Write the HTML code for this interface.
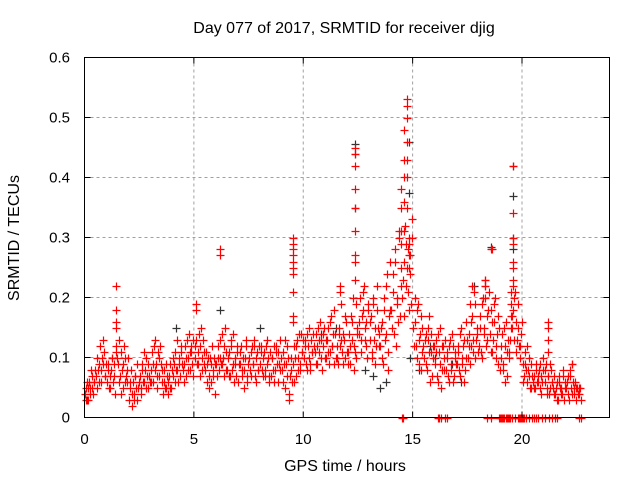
<!DOCTYPE html>
<html><head><meta charset="utf-8"><style>
html,body{margin:0;padding:0;background:#fff;}
svg{display:block;font-family:"Liberation Sans",Arial,sans-serif;}
</style></head><body>
<svg id="chart" width="640" height="480" viewBox="0 0 640 480">
<text x="344" y="33" font-size="16" text-anchor="middle" fill="#000">Day 077 of 2017, SRMTID for receiver djig</text>
<g id="grid"></g>
<g id="black"></g>
<g id="red"></g>
<g id="axes"></g>
<text x="345" y="471" font-size="16" text-anchor="middle">GPS time / hours</text>
<text transform="translate(19,238) rotate(-90)" font-size="16" text-anchor="middle">SRMTID / TECUs</text>
</svg>
<script>
const xTicks=[0,5,10,15,20];
const yTicks=[0,0.1,0.2,0.3,0.4,0.5,0.6];
const yTickLabels=["0","0.1","0.2","0.3","0.4","0.5","0.6"];
const redT=[
0.03,0.09,0.15,0.21,0.27,0.33,0.39,0.45,
0.53,0.59,0.65,0.71,0.77,0.83,0.89,0.95,
1.03,1.09,1.15,1.21,1.27,1.33,1.39,1.45,
1.53,1.59,1.65,1.71,1.77,1.83,1.89,1.95,
2.03,2.09,2.15,2.21,2.27,2.33,2.39,2.45,
2.53,2.59,2.65,2.71,2.77,2.83,2.89,2.95,
3.03,3.09,3.15,3.21,3.27,3.33,3.39,3.45,
3.53,3.59,3.65,3.71,3.77,3.83,3.89,3.95,
4.03,4.09,4.15,4.21,4.27,4.33,4.39,4.45,
4.53,4.59,4.65,4.71,4.77,4.83,4.89,4.95,
5.03,5.09,5.15,5.21,5.27,5.33,5.39,5.45,
5.53,5.59,5.65,5.71,5.77,5.83,5.89,5.95,
6.03,6.09,6.15,6.21,6.27,6.33,6.39,6.45,
6.53,6.59,6.65,6.71,6.77,6.83,6.89,6.95,
7.03,7.09,7.15,7.21,7.27,7.33,7.39,7.45,
7.53,7.59,7.65,7.71,7.77,7.83,7.89,7.95,
8.03,8.09,8.15,8.21,8.27,8.33,8.39,8.45,
8.53,8.59,8.65,8.71,8.77,8.83,8.89,8.95,
9.03,9.09,9.15,9.21,9.27,9.33,9.39,9.45,
9.53,9.59,9.65,9.71,9.77,9.83,9.89,9.95,
10.03,10.09,10.15,10.21,10.27,10.33,10.39,10.45,
10.53,10.59,10.65,10.71,10.77,10.83,10.89,10.95,
11.03,11.09,11.15,11.21,11.27,11.33,11.39,11.45,
11.53,11.59,11.65,11.71,11.77,11.83,11.89,11.95,
12.03,12.09,12.15,12.21,12.27,12.33,12.39,12.45,
12.53,12.59,12.65,12.71,12.77,12.83,12.89,12.95,
13.03,13.09,13.15,13.21,13.27,13.33,13.39,13.45,
13.53,13.59,13.65,13.71,13.77,13.83,13.89,13.95,
14.03,14.09,14.15,14.21,14.27,14.33,14.39,14.45,
14.53,14.59,14.65,14.71,14.77,14.83,14.89,14.95,
15.03,15.09,15.15,15.21,15.27,15.33,15.39,15.45,
15.53,15.59,15.65,15.71,15.77,15.83,15.89,15.95,
16.03,16.09,16.15,16.21,16.27,16.33,16.39,16.45,
16.53,16.59,16.65,16.71,16.77,16.83,16.89,16.95,
17.03,17.09,17.15,17.21,17.27,17.33,17.39,17.45,
17.53,17.59,17.65,17.71,17.77,17.83,17.89,17.95,
18.03,18.09,18.15,18.21,18.27,18.33,18.39,18.45,
18.53,18.59,18.65,18.71,18.77,18.83,18.89,18.95,
19.03,19.09,19.15,19.21,19.27,19.33,19.39,19.45,
19.53,19.59,19.65,19.71,19.77,19.83,19.89,19.95,
20.03,20.09,20.15,20.21,20.27,20.33,20.39,20.45,
20.53,20.59,20.65,20.71,20.77,20.83,20.89,20.95,
21.03,21.09,21.15,21.21,21.27,21.33,21.39,21.45,
21.53,21.59,21.65,21.71,21.77,21.83,21.89,21.95,
22.03,22.09,22.15,22.21,22.27,22.33,22.39,22.45,
22.53,22.59,22.65];
const redA=[
.04,.05,.03,.06,.05,.07,.04,.06,
.07,.10,.06,.12,.08,.09,.11,.07,
.06,.09,.05,.08,.10,.07,.04,.12,
.09,.06,.11,.08,.05,.10,.07,.06,
.03,.05,.02,.06,.04,.07,.03,.05,
.07,.05,.09,.06,.08,.10,.05,.07,
.08,.11,.06,.13,.09,.07,.10,.12,
.06,.04,.08,.05,.07,.06,.09,.05,
.07,.09,.11,.08,.06,.10,.12,.09,
.09,.12,.07,.10,.14,.08,.11,.13,
.10,.13,.09,.09,.12,.15,.08,.11,
.08,.06,.10,.05,.09,.12,.07,.04,
.09,.12,.08,.10,.14,.10,.07,.11,
.08,.11,.07,.13,.09,.06,.10,.12,
.06,.09,.12,.08,.05,.10,.13,.07,
.10,.07,.12,.09,.13,.06,.11,.08,
.09,.12,.07,.11,.08,.13,.10,.06,
.07,.10,.12,.08,.11,.06,.09,.13,
.08,.11,.05,.09,.12,.04,.07,.10,
.09,.12,.07,.13,.10,.08,.14,.11,
.10,.13,.08,.12,.15,.09,.11,.14,
.11,.14,.09,.13,.16,.10,.12,.15,
.10,.13,.15,.11,.17,.12,.09,.14,
.12,.09,.15,.13,.11,.14,.10,.16,
.11,.14,.09,.16,.20,.12,.10,.15,
.16,.20,.13,.18,.22,.15,.12,.19,
.13,.17,.10,.20,.15,.12,.18,.14,
.12,.16,.09,.20,.14,.24,.11,.18,
.18,.24,.14,.28,.20,.16,.31,.22,
.20,.26,.32,.22,.28,.18,.24,.30,
.15,.20,.12,.18,.09,.14,.17,.11,
.10,.14,.08,.13,.17,.11,.07,.12,
.09,.13,.06,.11,.15,.08,.12,.10,
.08,.11,.06,.13,.09,.12,.07,.10,
.09,.12,.07,.15,.10,.13,.08,.16,
.10,.14,.12,.17,.11,.19,.13,.15,
.12,.17,.10,.20,.15,.23,.13,.18,
.14,.18,.11,.16,.20,.12,.09,.15,
.10,.14,.08,.12,.16,.07,.11,.13,
.15,.18,.20,.16,.13,.19,.12,.14,
.09,.07,.11,.06,.08,.10,.05,.07,
.07,.05,.09,.06,.08,.05,.07,.10,
.06,.09,.04,.07,.05,.08,.06,.04,
.04,.06,.03,.07,.05,.04,.08,.06,
.05,.07,.03,.08,.04,.06,.05,.03,
.05,.04,.05];
const redB=[
.03,.06,.05,.04,.08,.05,.06,.08,
.05,.08,.09,.06,.10,.13,.07,.09,
.08,.05,.07,.10,.06,.09,.11,.10,
.13,.07,.04,.09,.12,.06,.08,.10,
.06,.08,.04,.03,.07,.05,.09,.06,
.04,.08,.06,.11,.05,.07,.09,.06,
.06,.09,.12,.08,.05,.11,.07,.09,
.08,.06,.05,.09,.04,.07,.05,.08,
.10,.06,.08,.13,.09,.07,.11,.08,
.06,.10,.13,.08,.11,.12,.09,.07,
.12,.09,.11,.14,.07,.10,.13,.09,
.11,.09,.07,.10,.06,.08,.10,.09,
.07,.10,.13,.09,.09,.12,.15,.08,
.10,.07,.12,.08,.14,.09,.07,.11,
.09,.11,.07,.10,.08,.12,.06,.09,
.08,.11,.09,.12,.07,.10,.08,.12,
.11,.08,.10,.07,.12,.09,.07,.11,
.10,.08,.06,.12,.09,.11,.08,.10,
.06,.09,.13,.07,.10,.03,.08,.06,
.06,.10,.12,.08,.14,.09,.11,.13,
.12,.09,.14,.10,.08,.13,.11,.12,
.09,.12,.15,.11,.13,.08,.14,.10,
.13,.11,.09,.16,.12,.14,.18,.10,
.10,.14,.12,.19,.09,.13,.17,.11,
.09,.12,.17,.13,.08,.11,.19,.14,
.14,.11,.17,.21,.13,.16,.10,.18,
.16,.11,.19,.13,.09,.22,.15,.12,
.15,.10,.18,.13,.22,.08,.17,.26,
.15,.21,.26,.12,.19,.30,.17,.25,
.23,.17,.29,.25,.21,.27,.19,.33,
.12,.16,.10,.19,.13,.08,.15,.12,
.13,.09,.15,.11,.06,.14,.10,.12,
.11,.07,.14,.09,.05,.12,.08,.13,
.10,.07,.12,.08,.14,.06,.11,.09,
.11,.08,.14,.09,.12,.06,.10,.13,
.12,.09,.16,.13,.21,.10,.14,.11,
.15,.11,.19,.14,.22,.12,.17,.21,
.11,.16,.13,.19,.10,.14,.17,.08,
.12,.09,.15,.06,.11,.13,.10,.15,
.17,.13,.21,.11,.15,.12,.10,.16,
.06,.09,.08,.12,.07,.05,.09,.06,
.05,.08,.06,.07,.09,.04,.06,.08,
.08,.05,.07,.04,.09,.06,.05,.07,
.05,.03,.06,.05,.04,.07,.03,.05,
.06,.04,.07,.05,.09,.04,.06,.05,
.04,.05,.03];
const spikeT=[1.45,1.45,1.45,1.45,5.1,5.1,6.2,6.2,
9.53,9.53,9.53,9.53,9.53,9.53,9.53,9.53,9.53,9.53,
11.7,11.7,
12.35,12.35,12.35,12.35,12.35,12.35,12.35,12.35,12.35,
14.45,14.45,14.45,14.45,
14.6,14.6,14.6,14.6,14.6,
14.75,14.75,14.75,14.75,14.75,14.75,14.75,
14.85,14.85,14.85,14.85,
18.3,18.3,18.3,18.6,18.62,
19.5,19.5,19.5,
19.6,19.6,19.6,19.6,19.6,19.6,19.6,19.6,
21.2,21.2,21.2,21.2,17.7,17.6];
const spikeV=[.22,.18,.16,.15,.19,.18,.28,.27,
.30,.29,.28,.27,.26,.25,.24,.21,.17,.16,
.22,.21,
.45,.44,.42,.38,.35,.31,.27,.26,.23,
.38,.35,.31,.29,
.48,.43,.40,.36,.31,
.53,.52,.50,.46,.43,.40,.35,
.30,.29,.27,.25,
.23,.22,.20,.28,.28,
.21,.19,.17,
.42,.34,.30,.29,.26,.25,.23,.22,
.16,.15,.13,.11,.22,.19];
const zeroT=[14.5,14.55,16.15,16.2,16.3,16.5,16.55,18.4,18.6,18.95,19.0,19.05,19.1,19.15,19.2,19.25,19.3,19.35,19.4,19.45,19.55,19.7,19.8,19.85,19.9,19.95,20.0,20.05,20.1,20.2,20.3,20.45,20.55,20.65,20.75,20.9,21.05,21.25,21.35,21.5,21.6,22.6,22.7];
const blackT=[12.35,12.35,12.35,14.85,14.85,19.6,19.6,19.6,19.6,18.6,17.8,6.2,13.2,13.8,14.9,15.3,16.0,16.8,11.5,10.8,8.0,4.2,0.1,22.3,13.5,15.8,17.2,12.8];
const blackV=[.455,.44,.35,.46,.375,.42,.37,.30,.28,.285,.22,.18,.07,.06,.10,.08,.10,.09,.15,.14,.15,.15,.03,.09,.05,.12,.06,.08];

const L=84.5,R=609.5,T=57.5,B=417.5;
const X=v=>L+(v/24)*(R-L);
const Y=v=>B-(v/0.6)*(B-T);
const NS="http://www.w3.org/2000/svg";
function mk(tag,parent,attrs){const e=document.createElementNS(NS,tag);for(const k in attrs)e.setAttribute(k,attrs[k]);parent.appendChild(e);return e;}
const grid=document.getElementById('grid'),axes=document.getElementById('axes');
xTicks.forEach(t=>{
  if(t>0){const g=mk('line',grid,{x1:X(t),x2:X(t),y1:T,y2:B,stroke:'#a0a0a0','stroke-dasharray':'3,3','stroke-width':1});
  
  }
  const a=mk('line',axes,{x1:X(t),x2:X(t),y1:B,y2:B-6,stroke:'#000'});
  
  
  const a2=mk('line',axes,{x1:X(t),x2:X(t),y1:T,y2:T+6,stroke:'#000'});
  
  
  const tx=mk('text',axes,{x:X(t),y:444,'font-size':15,'text-anchor':'middle'});
  tx.textContent=String(t);
  
  
});
yTicks.forEach((t,i)=>{
  if(t>0&&t<0.6){const g=mk('line',grid,{x1:L,x2:R,y1:Y(t),y2:Y(t),stroke:'#a0a0a0','stroke-dasharray':'3,3','stroke-width':1});
  
  }
  const a=mk('line',axes,{x1:L,x2:L+6,y1:Y(t),y2:Y(t),stroke:'#000'});
  
  
  const a2=mk('line',axes,{x1:R,x2:R-6,y1:Y(t),y2:Y(t),stroke:'#000'});
  
  
  const tx=mk('text',axes,{x:70,y:Y(t)+5,'font-size':15,'text-anchor':'end'});
  tx.textContent=yTickLabels[i];
  
  
});
const frame=mk('rect',axes,{x:L,y:T,width:R-L,height:B-T,fill:'none',stroke:'#000','stroke-width':1});


function plus(parent,t,v,col){
  const x=Math.round(X(t))+0.5,y=Math.round(Y(v))+0.5;
  const p=mk('path',parent,{d:`M${x-4},${y}H${x+4}M${x},${y-4}V${y+4}`,stroke:col,'stroke-width':1.2,fill:'none'});
  
  
}
const bg=document.getElementById('black'),rg=document.getElementById('red');
blackT.forEach((t,i)=>plus(bg,t,blackV[i],'#333'));
redT.forEach((t,i)=>{plus(rg,t,redA[i],'#ff0000');plus(rg,t+0.03,redB[i],'#ff0000');});
spikeT.forEach((t,i)=>plus(rg,t,spikeV[i],'#ff0000'));
zeroT.forEach(t=>plus(rg,t,0,'#ff0000'));
</script>
</body></html>
